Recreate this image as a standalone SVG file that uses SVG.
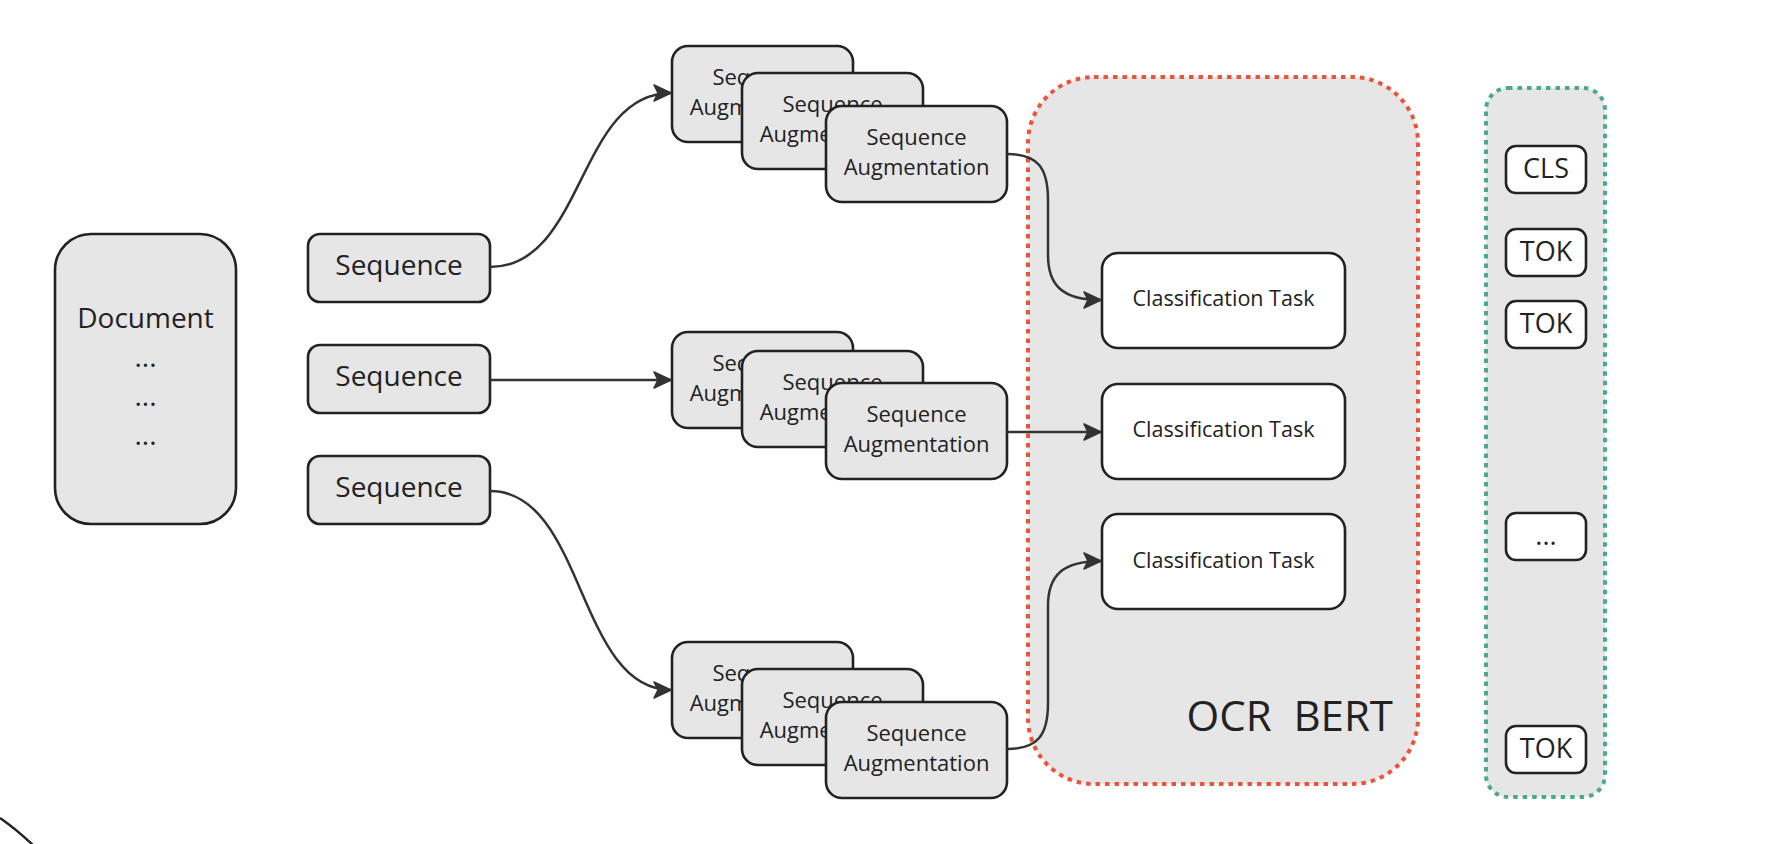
<svg xmlns="http://www.w3.org/2000/svg" width="1768" height="844" viewBox="0 0 1768 844">
<style>
text{font-family:"Open Sans","Noto Sans","Liberation Sans",sans-serif;fill:#222;text-anchor:middle}
.node{fill:#e6e6e6;stroke:#222;stroke-width:2.6}
.white{fill:#fff;stroke:#222;stroke-width:2.6}
.t28{font-size:28px}
.t22{font-size:22px}
.t21{font-size:21.5px}
.t27{font-size:27px}
.conn{fill:none;stroke:#333;stroke-width:2.5;marker-end:url(#arrow)}
.grp{fill:#e6e6e6;stroke-width:4;stroke-dasharray:4.5 5}
</style>
<defs>
<marker id="arrow" markerUnits="userSpaceOnUse" markerWidth="22" markerHeight="22" refX="18" refY="9" orient="auto" overflow="visible">
<path d="M1,1 L18,9 L1,17 L5,9 Z" fill="#333" stroke="#333" stroke-width="1.6" stroke-linejoin="round"/>
</marker>
</defs>
<rect width="1768" height="844" fill="#fff"/>

<g id="ocr-bert">
<rect class="grp" x="1028" y="77" width="390" height="707" rx="66" stroke="#e8553a"/>
<text x="1393" y="731" style="font-size:42px;text-anchor:end" xml:space="preserve">OCR  BERT</text>
</g>
<g id="tokens">
<rect class="grp" x="1486" y="88" width="119" height="709" rx="22" stroke="#4caa8b"/>
</g>

<g id="document">
<rect class="node" x="55" y="234" width="181" height="290" rx="36"/>
<text class="t28" x="145.5" y="328">Document</text>
<text class="t28" x="145.5" y="367">...</text>
<text class="t28" x="145.5" y="406">...</text>
<text class="t28" x="145.5" y="445">...</text>
</g>

<g id="seq1"><rect class="node" x="308" y="234" width="182" height="68" rx="12"/><text class="t28" x="399" y="275">Sequence</text></g>
<g id="seq2"><rect class="node" x="308" y="345" width="182" height="68" rx="12"/><text class="t28" x="399" y="386">Sequence</text></g>
<g id="seq3"><rect class="node" x="308" y="456" width="182" height="68" rx="12"/><text class="t28" x="399" y="497">Sequence</text></g>

<g id="aug1a"><rect class="node" x="672" y="46" width="181" height="96" rx="16"/><text class="t22" x="762.5" y="85">Sequence</text><text class="t22" x="762.5" y="115">Augmentation</text></g>
<g id="aug1b"><rect class="node" x="742" y="73" width="181" height="96" rx="16"/><text class="t22" x="832.5" y="112">Sequence</text><text class="t22" x="832.5" y="142">Augmentation</text></g>
<g id="aug1c"><rect class="node" x="826" y="106" width="181" height="96" rx="16"/><text class="t22" x="916.5" y="145">Sequence</text><text class="t22" x="916.5" y="175">Augmentation</text></g>

<g id="aug2a"><rect class="node" x="672" y="332" width="181" height="96" rx="16"/><text class="t22" x="762.5" y="371">Sequence</text><text class="t22" x="762.5" y="401">Augmentation</text></g>
<g id="aug2b"><rect class="node" x="742" y="351" width="181" height="96" rx="16"/><text class="t22" x="832.5" y="390">Sequence</text><text class="t22" x="832.5" y="420">Augmentation</text></g>
<g id="aug2c"><rect class="node" x="826" y="383" width="181" height="96" rx="16"/><text class="t22" x="916.5" y="422">Sequence</text><text class="t22" x="916.5" y="452">Augmentation</text></g>

<g id="aug3a"><rect class="node" x="672" y="642" width="181" height="96" rx="16"/><text class="t22" x="762.5" y="681">Sequence</text><text class="t22" x="762.5" y="711">Augmentation</text></g>
<g id="aug3b"><rect class="node" x="742" y="669" width="181" height="96" rx="16"/><text class="t22" x="832.5" y="708">Sequence</text><text class="t22" x="832.5" y="738">Augmentation</text></g>
<g id="aug3c"><rect class="node" x="826" y="702" width="181" height="96" rx="16"/><text class="t22" x="916.5" y="741">Sequence</text><text class="t22" x="916.5" y="771">Augmentation</text></g>

<g id="cls1"><rect class="white" x="1102" y="253" width="243" height="95" rx="16"/><text class="t21" x="1223.5" y="306">Classification Task</text></g>
<g id="cls2"><rect class="white" x="1102" y="384" width="243" height="95" rx="16"/><text class="t21" x="1223.5" y="437">Classification Task</text></g>
<g id="cls3"><rect class="white" x="1102" y="514" width="243" height="95" rx="16"/><text class="t21" x="1223.5" y="568">Classification Task</text></g>

<g id="tok-cls"><rect class="white" x="1506" y="146" width="80" height="47" rx="10"/><text class="t27" x="1546" y="178">CLS</text></g>
<g id="tok1"><rect class="white" x="1506" y="229" width="80" height="47" rx="10"/><text class="t27" x="1546" y="261">TOK</text></g>
<g id="tok2"><rect class="white" x="1506" y="301" width="80" height="47" rx="10"/><text class="t27" x="1546" y="333">TOK</text></g>
<g id="tok-dots"><rect class="white" x="1506" y="513" width="80" height="47" rx="10"/><text class="t27" x="1546" y="545">...</text></g>
<g id="tok3"><rect class="white" x="1506" y="726" width="80" height="47" rx="10"/><text class="t27" x="1546" y="758">TOK</text></g>

<g id="connectors">
<path class="conn" d="M490,267 C585,267 577,93 671,93"/>
<path class="conn" d="M490,380 L671,380"/>
<path class="conn" d="M490,491 C585,491 577,690 671,690"/>
<path class="conn" d="M1007,154 C1038,154 1048,168 1048,200 L1048,255 C1048,285 1062,300 1101,300"/>
<path class="conn" d="M1007,432 L1101,432"/>
<path class="conn" d="M1007,749 C1038,749 1048,735 1048,703 L1048,606 C1048,576 1062,561 1101,561"/>
</g>

<path d="M0,818 Q16,829 34,846" fill="none" stroke="#222" stroke-width="2.4"/>
</svg>
